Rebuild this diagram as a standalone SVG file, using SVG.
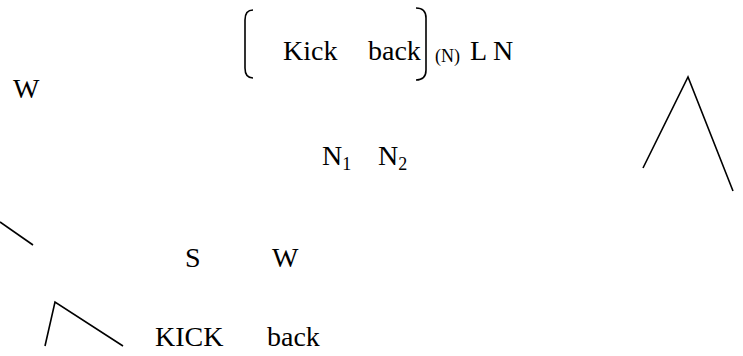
<svg xmlns="http://www.w3.org/2000/svg" width="743" height="356" viewBox="0 0 743 356">
  <style>
    text { font-family: "Liberation Serif", "Times New Roman", serif; font-size: 28px; fill: #000; }
    .sub { font-size: 18px; }
    .idx { font-size: 18px; }
    .ln { fill: none; stroke: #000; stroke-width: 1.6; stroke-linecap: butt; stroke-linejoin: miter; }
  </style>

  <!-- bracketed compound with its category label -->
  <g id="compound">
    <path class="ln" d="M253,10 Q245,10 245,20 L245,68 Q245,78 253,78"/>
    <path class="ln" d="M416,8 Q426,8 426,18 L426,70 Q426,80 416,80"/>
    <text x="283" y="60">Kick</text>
    <text x="368" y="60">back</text>
    <text class="sub" x="435" y="62">(N)</text>
    <text x="470" y="60">L N</text>
  </g>

  <g id="w-top">
    <text x="13" y="98">W</text>
  </g>

  <g id="n-pair">
    <text x="322" y="165">N<tspan class="idx" dy="5">1</tspan></text>
    <text x="378" y="165">N<tspan class="idx" dy="5">2</tspan></text>
  </g>

  <g id="s-w">
    <text x="185" y="267">S</text>
    <text x="272" y="267">W</text>
  </g>

  <g id="kick-back">
    <text x="155" y="346">KICK</text>
    <text x="267" y="346">back</text>
  </g>

  <!-- tree branches -->
  <g id="branches">
    <path class="ln" d="M0,222 L33,245"/>
    <path class="ln" d="M45,346 L55,302 L123,346"/>
    <path class="ln" d="M643,168 L688,77 L733,191"/>
  </g>
</svg>
